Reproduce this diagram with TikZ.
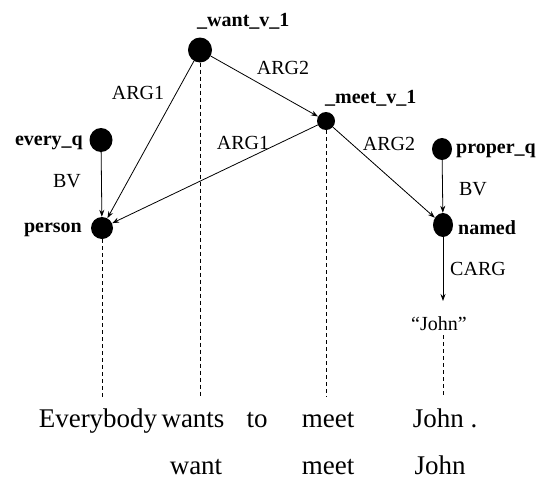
\documentclass[tikz,border=0pt]{standalone}
\usepackage{fontspec}
\setmainfont{Liberation Serif}
\usetikzlibrary{arrows.meta,shapes.geometric,calc}
\begin{document}
\begin{tikzpicture}[x=1pt,y=-1pt,
  dot/.style={ellipse,fill=black,inner sep=0pt},
  pred/.style={font=\fontsize{20}{20}\selectfont\bfseries,anchor=base,inner sep=0pt},
  rel/.style={font=\fontsize{20}{20}\selectfont,anchor=base,inner sep=0pt},
  word/.style={font=\fontsize{27}{27}\selectfont,anchor=base,inner sep=0pt},
  arc/.style={line width=0.8pt,-{Stealth[length=7pt,width=5pt]}},
  guide/.style={line width=0.7pt,dash pattern=on 4pt off 3pt}]
\useasboundingbox (0,0) rectangle (545,479);
% predicate nodes
\node[dot,minimum width=24pt,minimum height=25pt] (want) at (200,50) {};
\node[dot,minimum width=18pt,minimum height=18pt] (meet) at (326,121) {};
\node[dot,minimum width=23pt,minimum height=24pt] (every) at (101,140) {};
\node[dot,minimum width=22pt,minimum height=22pt] (person) at (102,228) {};
\node[dot,minimum width=20pt,minimum height=22pt] (proper) at (442,149) {};
\node[dot,minimum width=20pt,minimum height=24pt] (named) at (443,225) {};
% predicate labels
\node[pred,anchor=base west] (lwant) at (197,26) {\_want\_v\_1};
\node[pred,anchor=base west] (lmeet) at (325,103) {\_meet\_v\_1};
\node[pred,anchor=base east] (levery) at (83,145) {every\_q};
\node[pred,anchor=base east] (lperson) at (82,232) {person};
\node[pred,anchor=base west] (lproper) at (456,153) {proper\_q};
\node[pred,anchor=base west] (lnamed) at (458,234) {named};
% role labels
\node[rel] (r1) at (138,99) {ARG1};
\node[rel] (r2) at (283,74) {ARG2};
\node[rel] (r3) at (243,149) {ARG1};
\node[rel] (r4) at (389,150) {ARG2};
\node[rel] (r5) at (67,187) {BV};
\node[rel] (r6) at (473,195) {BV};
\node[rel] (r7) at (478,275) {CARG};
\node[rel] (john) at (439,330) {“John”};
% words
\node[word] (w1) at (98,427) {Everybody};
\node[word] (w2) at (193,427) {wants};
\node[word] (w3) at (257,427) {to};
\node[word] (w4) at (328,427) {meet};
\node[word] (w5) at (445,427) {John .};
\node[word] (l1) at (196,474) {want};
\node[word] (l2) at (328,474) {meet};
\node[word] (l3) at (440,474) {John};
% arcs
\draw[arc] (want) -- (person);
\draw[arc] (want) -- (meet);
\draw[arc] (meet) -- (person);
\draw[arc] (meet) -- (named);
\draw[arc] (every) -- (person);
\draw[arc] (proper) -- (named);
\coordinate (jt) at (443,301);
\draw[arc] (named) -- (jt);
% alignment lines
\coordinate (e1) at (102,397);
\coordinate (e2) at (200,397);
\coordinate (e3) at (326,397);
\coordinate (e4) at (443,397);
\draw[guide] (person) -- (e1);
\draw[guide] (want) -- (e2);
\draw[guide] (meet) -- (e3);
\draw[guide] ($(john.south -| e4)+(0,5)$) -- (e4);
\end{tikzpicture}
\end{document}
